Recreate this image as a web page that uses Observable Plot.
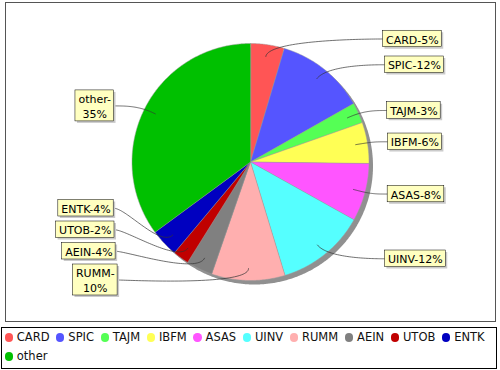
<!DOCTYPE html>
<html>
<head>
<meta charset="utf-8">
<script src="https://cdn.jsdelivr.net/npm/d3@7"></script>
<script src="https://cdn.jsdelivr.net/npm/@observablehq/plot@0.6"></script>
<style>
  html, body { margin: 0; padding: 0; background: #fff; }
  body { width: 500px; font-family: "DejaVu Sans", sans-serif; }
  #legend {
    box-sizing: border-box; margin: 5px 0 0 1px; width: 496px; height: 42px;
    border: 1px solid #000; padding: 0 0 0 2.5px;
    font: 11.5px "DejaVu Sans", sans-serif; line-height: 19px; color: #111;
  }
  .item { display: inline-flex; align-items: center; margin-right: 6.5px; white-space: nowrap; vertical-align: top; height: 19px; }
  .sw { width: 8.3px; height: 8.3px; border-radius: 50%; margin-right: 4px; }
</style>
</head>
<body>
<div id="chart"></div>
<div id="legend"></div>
<script>
// ---- data ----
const categories = ["CARD", "SPIC", "TAJM", "IBFM", "ASAS", "UINV", "RUMM", "AEIN", "UTOB", "ENTK", "other"];
const values = [46, 122, 28, 56, 79, 122, 100, 36, 22, 38, 351];
const colors = ["#FF5555", "#5555FF", "#55FF55", "#FFFF55", "#FF55FF", "#55FFFF", "#FFAFAF", "#808080", "#C00000", "#0000C0", "#00C000"];

// ---- layout constants ----
const R = 118.5;          // pie radius
const linkR = 124.3;      // link area radius
const depth = 0.9;        // link depth into slice
const fontPx = 11, lineH = 14.5, padX = 3, padY = 1, minGap = 5;
const bound = 133.5;      // vertical bound for label distribution
const maxLabelW = 56;

const total = d3.sum(values);
let acc = 0;
const slices = categories.map((name, i) => {
  const a0 = acc / total * 2 * Math.PI;
  acc += values[i];
  const a1 = acc / total * 2 * Math.PI;
  return { name, value: values[i], a0, a1, mid: (a0 + a1) / 2, pct: Math.round(values[i] / total * 100) };
});

// slice polygons
const slicePts = [];
for (const s of slices) {
  slicePts.push({ name: s.name, x: 0, y: 0 });
  const n = Math.max(2, Math.ceil((s.a1 - s.a0) / (Math.PI / 360)));
  for (let k = 0; k <= n; k++) {
    const a = s.a0 + (s.a1 - s.a0) * k / n;
    slicePts.push({ name: s.name, x: R * Math.sin(a), y: R * Math.cos(a) });
  }
}
const circlePts = d3.range(0, 721).map(k => { const a = k / 720 * 2 * Math.PI; return { x: R * Math.sin(a), y: R * Math.cos(a) }; });

// label text measurement
const ctx = document.createElement("canvas").getContext("2d");
ctx.font = `${fontPx}px "DejaVu Sans"`;
const tw = s => ctx.measureText(s).width;
function wrap(s) {
  if (tw(s) <= maxLabelW) return [s];
  const k = s.indexOf("-");
  return [s.slice(0, k + 1), s.slice(k + 1)];
}

// label records (screen-down coordinates relative to center for distribution)
const recs = slices.map(s => {
  const text = `${s.name}-${s.pct}%`;
  const lines = wrap(text);
  const w = d3.max(lines, tw) + 2 * padX;
  const h = lines.length * lineH + 2 * padY;
  return { s, lines, w, h, side: Math.sin(s.mid) >= 0 ? 1 : -1, yd: -linkR * Math.cos(s.mid) };
});

function distribute(list) {
  list.sort((a, b) => a.yd - b.yd);
  const overlap = () => list.some((r, i) => i > 0 && r.yd - r.h / 2 < list[i - 1].yd + list[i - 1].h / 2);
  if (overlap()) {
    for (let i = 0; i < list.length - 1; i++) {
      const r0 = list[i], r1 = list[i + 1];
      if (r1.yd - r1.h / 2 < r0.yd + r0.h / 2)
        r1.yd = Math.min(bound - r1.h / 2, r0.yd + r0.h / 2 + minGap + r1.h / 2);
    }
  }
  if (overlap()) {
    for (let i = list.length - 1; i > 0; i--) {
      const r0 = list[i], r1 = list[i - 1];
      if (r1.yd + r1.h / 2 > r0.yd - r0.h / 2)
        r1.yd = Math.max(-bound + r1.h / 2, r0.yd - r0.h / 2 - minGap - r1.h / 2);
    }
  }
}
distribute(recs.filter(r => r.side > 0));
distribute(recs.filter(r => r.side < 0));

const labelBoxes = [], leaderPts = [];
for (const r of recs) {
  const yc = -r.yd;
  const off = 137.5 * Math.sqrt(Math.max(0, 1 - (r.yd / 460) ** 2));
  const x1 = r.side > 0 ? off : -off - r.w;
  const x2 = r.side > 0 ? off + r.w : -off;
  labelBoxes.push({ name: r.s.name, x1, x2, y1: yc - r.h / 2, y2: yc + r.h / 2, cx: (x1 + x2) / 2, cy: yc, text: r.lines.join("\n") });
  const a = r.s.mid;
  const P0 = [depth * R * Math.sin(a), depth * R * Math.cos(a)];
  const P1 = [linkR * Math.sin(a), linkR * Math.cos(a)];
  const P2 = [r.side * linkR, yc];
  const P3 = [r.side > 0 ? x1 : x2, yc];
  for (let k = 0; k <= 48; k++) {
    const t = k / 48, u = 1 - t;
    const b0 = u * u * u, b1 = 3 * u * u * t, b2 = 3 * u * t * t, b3 = t * t * t;
    leaderPts.push({ name: r.s.name,
      x: b0 * P0[0] + b1 * P1[0] + b2 * P2[0] + b3 * P3[0],
      y: b0 * P0[1] + b1 * P1[1] + b2 * P2[1] + b3 * P3[1] });
  }
}

const chart = Plot.plot({
  width: 500, height: 322,
  marginLeft: 5, marginRight: 5, marginTop: 2, marginBottom: 1,
  x: { domain: [-245, 245], axis: null },
  y: { domain: [-159.5, 159.5], axis: null },
  color: { domain: categories, range: colors },
  style: { fontFamily: "DejaVu Sans, sans-serif", background: "white" },
  marks: [
    Plot.frame({ stroke: "#555" }),
    Plot.line(circlePts, { x: "x", y: "y", fill: "#909090", stroke: "none", curve: "linear-closed", dx: 4, dy: 4 }),
    Plot.line(slicePts, { x: "x", y: "y", z: "name", fill: "name", stroke: "#9a9a9a", strokeWidth: 0.5, curve: "linear-closed" }),
    Plot.line(leaderPts, { x: "x", y: "y", z: "name", stroke: "#333", strokeWidth: 0.7 }),
    Plot.rect(labelBoxes, { x1: "x1", x2: "x2", y1: "y1", y2: "y2", fill: "#cbcbcb", dx: 2, dy: 2 }),
    Plot.rect(labelBoxes, { x1: "x1", x2: "x2", y1: "y1", y2: "y2", fill: "#FFFFC0", stroke: "#000", strokeWidth: 0.5 }),
    Plot.text(labelBoxes, { x: "cx", y: "cy", text: "text", fontSize: fontPx, lineHeight: lineH / fontPx, fill: "#000", textAnchor: "middle" })
  ]
});
document.getElementById("chart").appendChild(chart);

// legend
const legend = d3.select("#legend");
categories.forEach((c, i) => {
  const it = legend.append("span").attr("class", "item");
  it.append("span").attr("class", "sw").style("background", colors[i]);
  it.append("span").text(c);
});
</script>
</body>
</html>
